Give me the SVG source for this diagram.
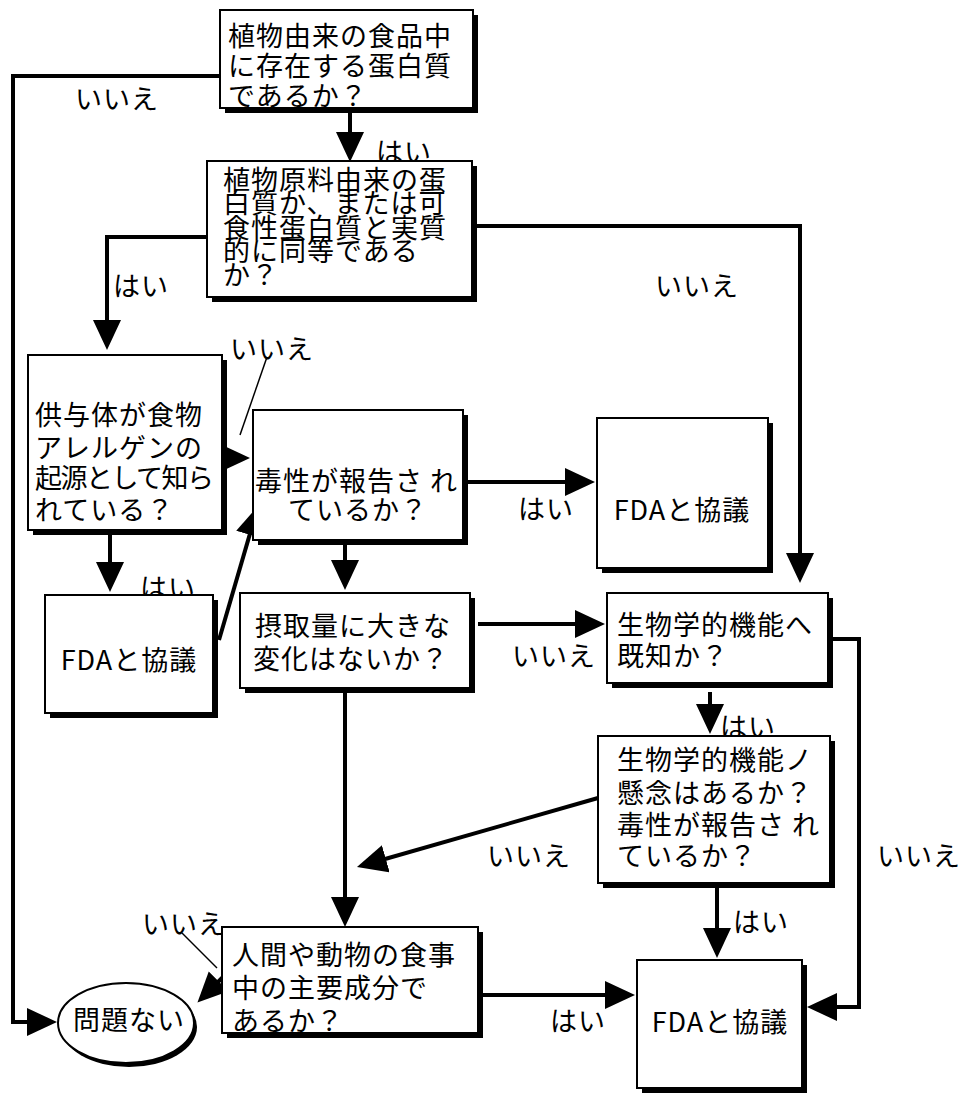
<svg xmlns="http://www.w3.org/2000/svg" width="962" height="1095" viewBox="0 0 962 1095">
<style>
.shadow{fill:#000}
.box{fill:#fff;stroke:#000;stroke-width:2}
.t{font-family:"Noto Sans CJK JP","Noto Sans",sans-serif;font-size:27px;fill:#000;letter-spacing:1px}
.lbl{font-family:"Noto Sans CJK JP","Noto Sans",sans-serif;font-size:27px;fill:#000;letter-spacing:1px}
.c{fill:none;stroke:#000;stroke-width:4}
.thin{fill:none;stroke:#000;stroke-width:1.5}
</style>
<defs>
<marker id="ah" markerUnits="userSpaceOnUse" markerWidth="32" markerHeight="30" refX="8" refY="14" orient="auto">
<path d="M0,0 L30,14 L0,28 Z" fill="#000"/>
</marker>
</defs>
<rect width="962" height="1095" fill="#fff"/>

<g id="connectors">
<path class="c" d="M222,76 L13,76 L13,1022 L35,1022" marker-end="url(#ah)"/>
<path class="c" d="M350,113 L350,140" marker-end="url(#ah)"/>
<path class="c" d="M207,237 L107,237 L107,328" marker-end="url(#ah)"/>
<path class="c" d="M477,226 L800,226 L800,561" marker-end="url(#ah)"/>
<path class="c" d="M222,458 L228,458" marker-end="url(#ah)"/>
<path class="c" d="M110,535 L110,570" marker-end="url(#ah)"/>
<path class="c" d="M219,640 L251.9,527.1" marker-end="url(#ah)"/>
<path class="c" d="M468,482 L573,482" marker-end="url(#ah)"/>
<path class="c" d="M345,545 L345,568" marker-end="url(#ah)"/>
<path class="c" d="M478,624 L583,624" marker-end="url(#ah)"/>
<path class="c" d="M345,693 L345,905" marker-end="url(#ah)"/>
<path class="c" d="M833,639 L859,639 L859,1007 L829,1007" marker-end="url(#ah)"/>
<path class="c" d="M710,692 L710,712" marker-end="url(#ah)"/>
<path class="c" d="M598,798 L378.1,861" marker-end="url(#ah)"/>
<path class="c" d="M717,888 L717,936" marker-end="url(#ah)"/>
<path class="c" d="M483,995 L613,995" marker-end="url(#ah)"/>
<path class="c" d="M224,976 L213,987" marker-end="url(#ah)"/>
<path class="thin" d="M182,933 L217,968"/>
<path class="thin" d="M267,357 L240,435"/>
<g id="labels">
<text class="lbl" x="75" y="109">いいえ</text>
<text class="lbl" x="376" y="162">はい</text>
<text class="lbl" x="113" y="296">はい</text>
<text class="lbl" x="655" y="296">いいえ</text>
<text class="lbl" x="230" y="359">いいえ</text>
<text class="lbl" x="140" y="598">はい</text>
<text class="lbl" x="518" y="519">はい</text>
<text class="lbl" x="512" y="666">いいえ</text>
<text class="lbl" x="720" y="737">はい</text>
<text class="lbl" x="487" y="866">いいえ</text>
<text class="lbl" x="877" y="866">いいえ</text>
<text class="lbl" x="733" y="932">はい</text>
<text class="lbl" x="550" y="1031">はい</text>
<text class="lbl" x="142" y="934">いいえ</text>
</g>
</g>

<g id="n1">
<rect class="shadow" x="225" y="15" width="253" height="98"/>
<rect class="box" x="220" y="10" width="253" height="98"/>
<text class="t" x="228" y="46">植物由来の食品中</text>
<text class="t" x="228" y="76">に存在する蛋白質</text>
<text class="t" x="228" y="106">であるか？</text>
</g>

<g id="n2">
<rect class="shadow" x="212" y="166" width="265" height="136"/>
<rect class="box" x="207" y="161" width="265" height="136"/>
<text class="t" x="223" y="190">植物原料由来の蛋</text>
<text class="t" x="223" y="213">白質か、または可</text>
<text class="t" x="223" y="238">食性蛋白質と実質</text>
<text class="t" x="223" y="261">的に同等である</text>
<text class="t" x="223" y="285">か？</text>
</g>

<g id="n3">
<rect class="shadow" x="33" y="360" width="194" height="175"/>
<rect class="box" x="28" y="355" width="194" height="175"/>
<text class="t" x="35" y="425">供与体が食物</text>
<text class="t" x="35" y="458">アレルゲンの</text>
<text class="t" x="35" y="488" textLength="180" lengthAdjust="spacing">起源として知ら</text>
<text class="t" x="35" y="520">れている？</text>
</g>

<g id="n4">
<rect class="shadow" x="258" y="415" width="210" height="130"/>
<rect class="box" x="253" y="410" width="210" height="130"/>
<text class="t" x="255" y="491">毒性が報告さ れ</text>
<text class="t" x="288" y="520">ているか？</text>
</g>

<g id="n5">
<rect class="shadow" x="50" y="600" width="168" height="118"/>
<rect class="box" x="45" y="595" width="168" height="118"/>
<text class="t" x="129" y="670" text-anchor="middle">FDAと協議</text>
</g>

<g id="n6">
<rect class="shadow" x="245" y="598" width="230" height="95"/>
<rect class="box" x="240" y="593" width="230" height="95"/>
<text class="t" x="255" y="636">摂取量に大きな</text>
<text class="t" x="253" y="669">変化はないか？</text>
</g>

<g id="n7">
<rect class="shadow" x="602" y="423" width="171" height="150"/>
<rect class="box" x="597" y="418" width="171" height="150"/>
<text class="t" x="682" y="520" text-anchor="middle">FDAと協議</text>
</g>

<g id="n8">
<rect class="shadow" x="612" y="598" width="221" height="90"/>
<rect class="box" x="607" y="593" width="221" height="90"/>
<text class="t" x="617" y="635">生物学的機能へ</text>
<text class="t" x="617" y="666">既知か？</text>
</g>

<g id="n9">
<rect class="shadow" x="603" y="741" width="232" height="147"/>
<rect class="box" x="598" y="736" width="232" height="147"/>
<text class="t" x="617" y="770">生物学的機能ノ</text>
<text class="t" x="617" y="803">懸念はあるか？</text>
<text class="t" x="617" y="835">毒性が報告さ れ</text>
<text class="t" x="617" y="866">ているか？</text>
</g>

<g id="n10">
<rect class="shadow" x="642" y="965" width="165" height="128"/>
<rect class="box" x="637" y="960" width="165" height="128"/>
<text class="t" x="720" y="1032" text-anchor="middle">FDAと協議</text>
</g>

<g id="n11">
<rect class="shadow" x="227" y="932" width="256" height="106"/>
<rect class="box" x="222" y="927" width="256" height="106"/>
<text class="t" x="232" y="965">人間や動物の食事</text>
<text class="t" x="232" y="998">中の主要成分で</text>
<text class="t" x="232" y="1031">あるか？</text>
</g>

<g id="n12">
<ellipse cx="129" cy="1027" rx="68" ry="40" fill="#000"/>
<ellipse cx="126" cy="1023" rx="68" ry="40" fill="#fff" stroke="#000" stroke-width="2"/>
<text class="t" x="129" y="1030" text-anchor="middle">問題ない</text>
</g>
</svg>
